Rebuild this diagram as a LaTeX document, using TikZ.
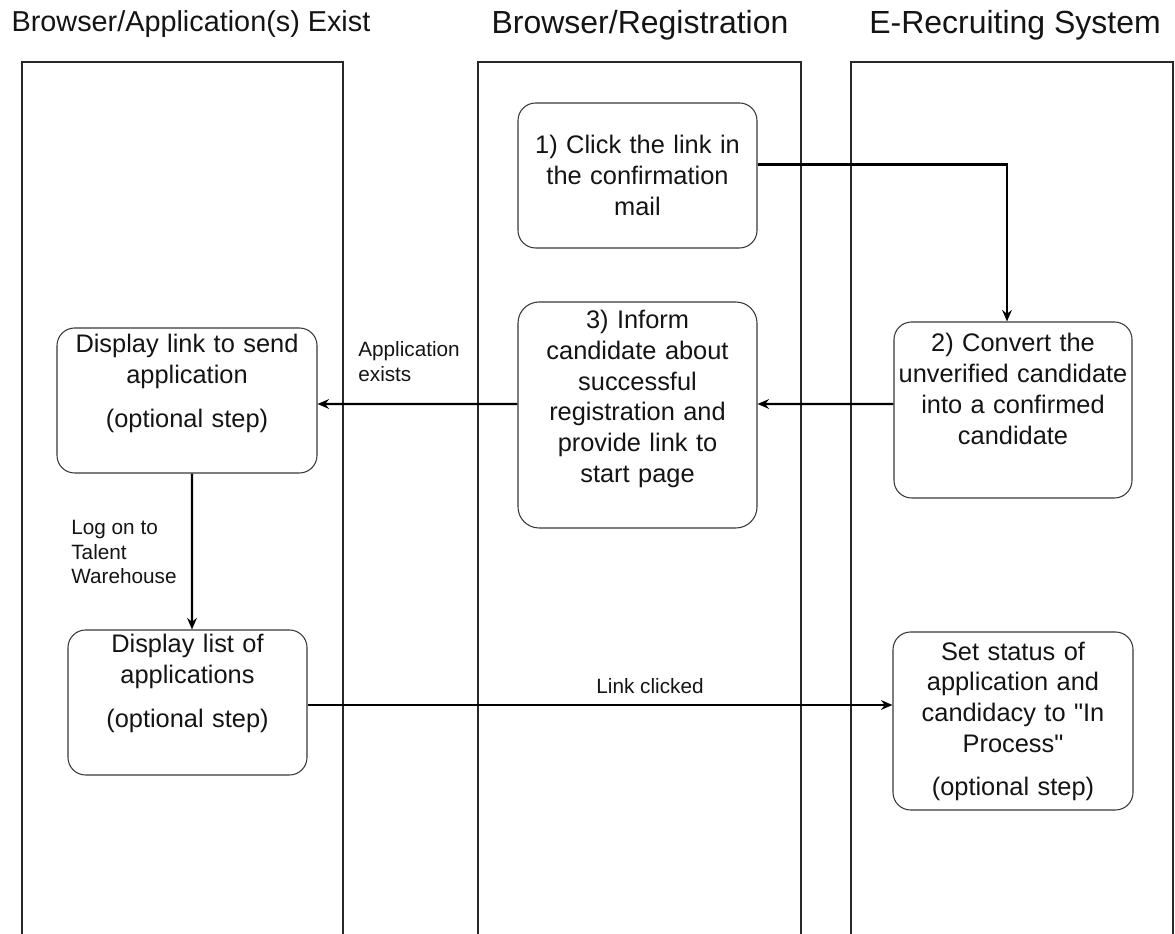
\documentclass[tikz,border=0pt]{standalone}
\usepackage{fontspec}
\setmainfont{Liberation Sans}
\usepackage{tikz}
\usetikzlibrary{arrows.meta, positioning, calc}
\definecolor{lanegray}{RGB}{40,40,40}
\definecolor{boxgray}{RGB}{55,55,55}
\definecolor{inkblack}{RGB}{20,20,20}
\tikzset{
  lane/.style={draw=lanegray, line width=0.7pt},
  lanetitle/.style={anchor=base, inner sep=0pt, text=inkblack,
    font=\fontsize{18.2}{22}\selectfont},
  stepbox/.style={rectangle, draw=boxgray, line width=0.6pt,
    rounded corners=10pt, align=center, inner sep=0pt, text=inkblack,
    font=\fontsize{14.45}{17.5}\selectfont},
  lift/.style={execute at end node={\par\vspace*{#1}}},
  arrow/.style={-{Stealth[length=6.5pt, width=5.5pt]}, line width=1.35pt, color=black},
  edgelabel/.style={align=left, inner sep=0pt, text=inkblack,
    font=\fontsize{11.8}{14.2}\selectfont}
}

\begin{document}
\begin{tikzpicture}
  \useasboundingbox (0,0) rectangle (23.5,18.68);

  % Swim lanes
  \draw[lane] (0.44,0) -- (0.44,17.44) -- (6.86,17.44) -- (6.86,0);
  \draw[lane] (9.56,0) -- (9.56,17.44) -- (16.02,17.44) -- (16.02,0);
  \draw[lane] (17.02,0) -- (17.02,17.44) -- (23.46,17.44) -- (23.46,0);

  % Lane titles
  \node[lanetitle, font=\fontsize{16.4}{20}\selectfont] (ttlapps) at (3.82,18.05) {Browser/Application(s) Exist};
  \node[lanetitle] (ttlreg) at (12.8,18.0) {Browser/Registration};
  \node[lanetitle] (ttlsys) at (20.3,18.0) {E-Recruiting System};

  % Registration steps
  \node[stepbox, text width=4.78cm, minimum height=2.9cm] (click) at (12.75,15.17)
    {1) Click the link in\\the confirmation\\mail};
  \node[stepbox, text width=4.76cm, minimum height=3.52cm, lift=0.84cm] (convert) at (20.26,10.48)
    {2) Convert the\\unverified candidate\\into a confirmed\\candidate};
  \node[stepbox, text width=4.78cm, minimum height=4.52cm, lift=0.64cm, rounded corners=12pt] (inform) at (12.75,10.38)
    {3) Inform\\candidate about\\successful\\registration and\\provide link to\\start page};

  % Optional steps
  \node[stepbox, text width=5.2cm, minimum height=2.9cm, lift=0.68cm] (showlink) at (3.74,10.67)
    {Display link to send\\application\\[0.28cm](optional step)};
  \node[stepbox, text width=4.78cm, minimum height=2.9cm, lift=0.76cm] (showlist) at (3.75,4.63)
    {Display list of\\applications\\[0.28cm](optional step)};
  \node[stepbox, text width=4.8cm, minimum height=3.56cm] (setstatus) at (20.26,4.26)
    {Set status of\\application and\\candidacy to \textquotedbl In\\Process\textquotedbl\\[0.24cm](optional step)};

  % Connector labels
  \node[edgelabel, anchor=west] (lblexists) at (7.16,11.44) {Application\\exists};
  \node[edgelabel, anchor=west] (lbllogon) at (1.42,7.64) {Log on to\\Talent\\Warehouse};
  \node[edgelabel] (lblclicked) at (13.0,4.96) {Link clicked};

  % Connectors
  \draw[arrow] ([yshift=0.22cm]click.east) -| ([xshift=-0.12cm]convert.north);
  \draw[arrow] ([yshift=0.12cm]convert.west) -- ([yshift=0.22cm]inform.east);
  \draw[arrow] ([yshift=0.22cm]inform.west) -- ([yshift=-0.07cm]showlink.east);
  \draw[arrow] ([xshift=0.1cm]showlink.south) -- ([xshift=0.09cm]showlist.north);
  \draw[arrow] ([yshift=-0.05cm]showlist.east) -- ([yshift=0.32cm]setstatus.west);
\end{tikzpicture}
\end{document}
